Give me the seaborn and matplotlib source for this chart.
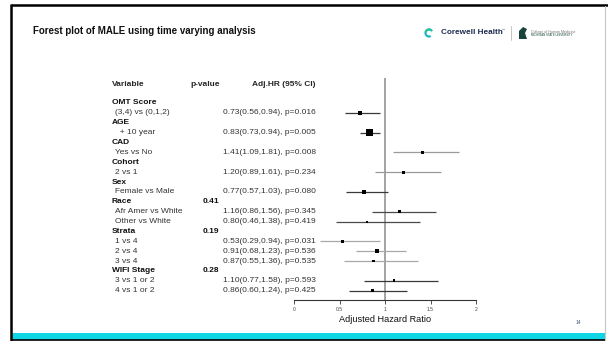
import pandas as pd
import seaborn as sns
import matplotlib.pyplot as plt
from matplotlib.patches import Rectangle, Wedge, Polygon
from matplotlib.transforms import blended_transform_factory

# data
variables = ["OMT Score", "AGE", "CAD", "Cohort", "Sex", "Race", "Strata", "WIFI Stage"]
overall_p = ["", "", "", "", "", "0.41", "0.19", "0.28"]
comparisons = ["(3,4) vs (0,1,2)", "  + 10 year", "Yes vs No", "2 vs 1", "Female vs Male",
               "Afr Amer vs White", "Other vs White", "1 vs 4", "2 vs 4", "3 vs 4",
               "3 vs 1 or 2", "4 vs 1 or 2"]
comp_variable = ["OMT Score", "AGE", "CAD", "Cohort", "Sex", "Race", "Race",
                 "Strata", "Strata", "Strata", "WIFI Stage", "WIFI Stage"]
hr = [0.73, 0.83, 1.41, 1.20, 0.77, 1.16, 0.80, 0.53, 0.91, 0.87, 1.10, 0.86]
ci_low = [0.56, 0.73, 1.09, 0.89, 0.57, 0.86, 0.46, 0.29, 0.68, 0.55, 0.77, 0.60]
ci_high = [0.94, 0.94, 1.81, 1.61, 1.03, 1.56, 1.38, 0.94, 1.23, 1.36, 1.58, 1.24]
p_values = ["0.016", "0.005", "0.008", "0.234", "0.080", "0.345", "0.419",
            "0.031", "0.536", "0.535", "0.593", "0.425"]
box_weight = [4, 7, 2.7, 2.7, 3.7, 2.7, 2, 3, 3.7, 2.7, 2.7, 3]
x_ticks = [0, 0.5, 1, 1.5, 2]
x_ticklabels = ["0", "0.5", "1", "1.5", "2"]

line_color = {"OMT Score": "#3a3a3a", "AGE": "#3a3a3a", "CAD": "#9a9a9a", "Cohort": "#9a9a9a",
              "Sex": "#3a3a3a", "Race": "#4a4a4a", "Strata": "#a8a8a8", "WIFI Stage": "#3a3a3a"}

# one row per group header, then its comparisons
group_rows = []
comp_rows = []
r = 0
for v in variables:
    group_rows.append(r)
    r += 1
    for cv in comp_variable:
        if cv == v:
            comp_rows.append(r)
            r += 1

df = pd.DataFrame({"comparison": comparisons, "variable": comp_variable, "hr": hr,
                   "low": ci_low, "high": ci_high, "p": p_values, "weight": box_weight})
df["row"] = comp_rows
df["s"] = (df["weight"] * 0.72) ** 2

sns.set_style("white")
plt.rcParams["font.family"] = ["Liberation Sans", "DejaVu Sans"]

W, H = 608, 341
fig = plt.figure(figsize=(W / 100, H / 100), dpi=100)

# slide background in pixel coordinates
bg = fig.add_axes([0, 0, 1, 1])
bg.set_xlim(0, W)
bg.set_ylim(H, 0)
bg.axis("off")
bg.add_patch(Rectangle((12, 332.5), 593, 7, color="#10d5e4", lw=0))
bg.plot([11, W], [5, 5], color="black", lw=1.8, solid_capstyle="butt")
bg.plot([11, 11], [4, 341], color="black", lw=1.8, solid_capstyle="butt")
bg.plot([11, 605], [340.3, 340.3], color="black", lw=1.2, solid_capstyle="butt")
bg.plot([605, 605], [6, 340], color="#c8c8c8", lw=0.8)

bg.text(33, 30.5, "Forest plot of MALE using time varying analysis", fontsize=7.0,
        weight="bold", va="center", color="#111111")

# logos
bg.add_patch(Wedge((429, 33), 4.6, 60, 330, width=2.2, color="#19b6c9", lw=0))
bg.add_patch(Wedge((429, 33), 4.6, 200, 300, width=2.2, color="#2fc48e", lw=0))
bg.text(441, 33, "Corewell Health", fontsize=5.9, weight="bold", color="#1e2b4f", va="center")
bg.text(502, 30, "™", fontsize=2.2, color="#1e2b4f", va="center")
bg.plot([511, 511], [26, 40], color="#bbbbbb", lw=0.6)
bg.add_patch(Polygon([[519, 39], [519, 31], [523, 27], [527, 29], [525, 33], [527, 39]],
                     closed=True, color="#18453b", lw=0))
bg.text(531, 31.5, "College of Human Medicine", fontsize=2.6, color="#777777", va="center")
bg.text(531, 35, "MICHIGAN STATE UNIVERSITY", fontsize=2.1, color="#18453b", va="center")
bg.text(578, 323, "14", fontsize=3.6, color="#4a5a7a", ha="center", va="center")

# forest plot axes: x 0..2 spans px 294..476, bottom spine at px 300
row0, step = 103, 9.88
ax = fig.add_axes([294 / W, 1 - 300 / H, 182 / W, (300 - 78) / H])
ax.set_facecolor("none")
ax.axvline(1, color="#8a8a8a", lw=1.1, zorder=1)
ax.hlines(df["row"], df["low"], df["high"], colors=df["variable"].map(line_color),
          lw=0.9, zorder=2)
sns.scatterplot(data=df, x="hr", y="row", size="s", sizes=(df["s"].min(), df["s"].max()),
                size_norm=(df["s"].min(), df["s"].max()), marker="s", color="black",
                linewidth=0, legend=False, ax=ax, zorder=3)
ax.set_xlim(0, 2)
ax.set_ylim((300 - row0) / step, (78 - row0) / step)
ax.set_yticks([])
ax.set_ylabel("")
for side in ["left", "top", "right"]:
    ax.spines[side].set_visible(False)
ax.spines["bottom"].set_color("#333333")
ax.spines["bottom"].set_linewidth(0.8)
ax.set_xticks(x_ticks)
ax.set_xticklabels(x_ticklabels)
ax.tick_params(axis="x", bottom=True, length=3, width=0.6, color="#333333",
               labelsize=3.6, labelcolor="#444444", pad=2)
ax.set_xlabel("Adjusted Hazard Ratio", fontsize=6.6, color="#111111", labelpad=2.5)

# table text
tr = blended_transform_factory(bg.transData, ax.transData)
head_row = (84 - row0) / step
fs = 6.0
bg.text(112, head_row, "Variable", transform=tr, fontsize=fs, weight="bold", va="center")
bg.text(190, head_row, "p-value", transform=tr, fontsize=fs, weight="bold", va="center")
bg.text(316, head_row, "Adj.HR (95% CI)", transform=tr, fontsize=fs, weight="bold",
        va="center", ha="right")
for v, p, gr in zip(variables, overall_p, group_rows):
    bg.text(112, gr, v, transform=tr, fontsize=fs, weight="bold", va="center", color="#111111")
    if p:
        bg.text(203, gr, p, transform=tr, fontsize=fs, weight="bold", va="center", color="#111111")
for _, d in df.iterrows():
    bg.text(115, d["row"], d["comparison"], transform=tr, fontsize=fs, va="center", color="#333333")
    bg.text(316, d["row"], f"{d['hr']:.2f}({d['low']:.2f},{d['high']:.2f}), p={d['p']}",
            transform=tr, fontsize=fs, va="center", ha="right", color="#333333")

fig.savefig("out.png", dpi=100)
